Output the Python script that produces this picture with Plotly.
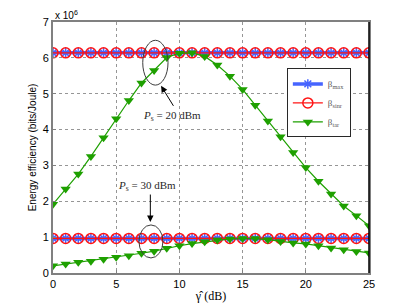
import numpy as np
import plotly.graph_objects as go

gamma_db = list(range(0, 26))
# Energy efficiency values in units of 1e6 bits/Joule
beta_max_20 = [6.14] * 26
beta_sinr_20 = [6.14] * 26
beta_tar_20 = [1.92, 2.34, 2.76, 3.25, 3.77, 4.30, 4.81, 5.30, 5.65, 6.01, 6.13, 6.14, 6.04,
               5.80, 5.49, 5.12, 4.68, 4.24, 3.80, 3.36, 2.94, 2.56, 2.20, 1.87, 1.60, 1.32]
beta_max_30 = [0.965] * 26
beta_sinr_30 = [0.965] * 26
beta_tar_30 = [0.20, 0.25, 0.30, 0.33, 0.38, 0.44, 0.48, 0.55, 0.61, 0.69, 0.76, 0.82, 0.87,
               0.92, 0.95, 0.96, 0.96, 0.93, 0.88, 0.84, 0.81, 0.76, 0.70, 0.65, 0.60, 0.56]
y_ticks = [0, 1, 2, 3, 4, 5, 6, 7]
x_ticks = [0, 5, 10, 15, 20, 25]
SCALE = 1e6

BLUE = "rgb(70,100,255)"
RED = "rgb(255,20,20)"
GREEN = "rgb(30,160,0)"

fig = go.Figure()

def add_group(bmax, bsinr, btar, show):
    fig.add_trace(go.Scatter(x=gamma_db, y=np.array(bmax) * SCALE, mode="lines+markers",
                             name="β<sub>max</sub>", showlegend=show, legendgroup="a",
                             line=dict(color=BLUE, width=3.5),
                             marker=dict(symbol="asterisk-open", size=8, color=BLUE,
                                         line=dict(color=BLUE, width=1.5))))
    fig.add_trace(go.Scatter(x=gamma_db, y=np.array(bsinr) * SCALE, mode="lines+markers",
                             name="β<sub>sinr</sub>", showlegend=show, legendgroup="b",
                             line=dict(color=RED, width=1.2),
                             marker=dict(symbol="circle-open", size=10, color=RED,
                                         line=dict(color=RED, width=1.5))))
    fig.add_trace(go.Scatter(x=gamma_db, y=np.array(btar) * SCALE, mode="lines+markers",
                             name="β<sub>tar</sub>", showlegend=show, legendgroup="c",
                             line=dict(color=GREEN, width=1.2),
                             marker=dict(symbol="triangle-down", size=9, color=GREEN)))

add_group(beta_max_20, beta_sinr_20, beta_tar_20, True)
add_group(beta_max_30, beta_sinr_30, beta_tar_30, False)

grid = dict(showgrid=True, gridcolor="rgb(150,150,150)", griddash="dot", gridwidth=1)

fig.update_xaxes(range=[0, 25], tickvals=x_ticks, ticktext=[str(v) for v in x_ticks],
                 showline=True, linecolor="rgb(128,128,128)", linewidth=2, mirror=True,
                 ticks="inside", ticklen=3, tickcolor="rgb(128,128,128)", zeroline=False,
                 automargin=False,
                 tickfont=dict(family="Liberation Sans, Arial", size=11, color="black"),
                 title=dict(text="γ\u0302 (dB)", font=dict(family="Liberation Serif, Times New Roman", size=12, color="black"), standoff=2),
                 **grid)
fig.update_yaxes(range=[0, 7 * SCALE], tickvals=[v * SCALE for v in y_ticks],
                 ticktext=[str(v) for v in y_ticks],
                 showline=True, linecolor="rgb(128,128,128)", linewidth=2, mirror=True,
                 ticks="inside", ticklen=3, tickcolor="rgb(128,128,128)", zeroline=False,
                 automargin=False,
                 tickfont=dict(family="Liberation Sans, Arial", size=11, color="black"),
                 title=dict(text="Energy efficiency (bits/Joule)", font=dict(family="Liberation Sans, Arial", size=10, color="black"), standoff=4),
                 **grid)

shapes = [
    dict(type="line", xref="paper", yref="paper", x0=1, x1=1, y0=0, y1=1,
         line=dict(color="black", width=1.5)),
    dict(type="circle", xref="x", yref="y", x0=7.1, x1=9.1, y0=5.24 * SCALE, y1=6.49 * SCALE,
         line=dict(color="rgb(60,60,60)", width=1)),
    dict(type="circle", xref="x", yref="y", x0=6.8, x1=8.7, y0=0.42 * SCALE, y1=1.34 * SCALE,
         line=dict(color="rgb(60,60,60)", width=1)),
]

annotations = [
    dict(xref="paper", yref="paper", x=0, y=1, xanchor="left", yanchor="bottom", yshift=-1,
         text="x 10<sup>6</sup>", showarrow=False,
         font=dict(family="Liberation Sans, Arial", size=10, color="black")),
    dict(x=9.4, y=4.37 * SCALE, xref="x", yref="y", text="<i>P</i><sub>s</sub> = 20 dBm",
         showarrow=False, font=dict(family="Liberation Serif, Times New Roman", size=11, color="rgb(40,40,40)")),
    dict(x=8.55, y=5.22 * SCALE, ax=9.6, ay=4.62 * SCALE, axref="x", ayref="y",
         xref="x", yref="y", text="", showarrow=True, arrowhead=2, arrowsize=1.3, arrowwidth=1,
         arrowcolor="black", standoff=0, startstandoff=0),
    dict(x=7.4, y=2.42 * SCALE, xref="x", yref="y", text="<i>P</i><sub>s</sub> = 30 dBm",
         showarrow=False, font=dict(family="Liberation Serif, Times New Roman", size=11, color="rgb(40,40,40)")),
    dict(x=7.7, y=1.42 * SCALE, ax=7.7, ay=2.23 * SCALE, axref="x", ayref="y",
         xref="x", yref="y", text="", showarrow=True, arrowhead=2, arrowsize=1.3, arrowwidth=1,
         arrowcolor="black", standoff=0, startstandoff=0),
]

fig.update_layout(
    width=400, height=299,
    margin=dict(l=45, r=39, t=14, b=34),
    paper_bgcolor="white", plot_bgcolor="white",
    shapes=shapes, annotations=annotations,
    legend=dict(x=0.74, y=0.815, xanchor="left", yanchor="top",
                bgcolor="white", bordercolor="rgb(40,40,40)", borderwidth=1,
                font=dict(family="Liberation Serif, Times New Roman", size=9, color="rgb(90,90,90)"),
                tracegroupgap=0, itemwidth=30),
)

fig.write_html("out.html")
